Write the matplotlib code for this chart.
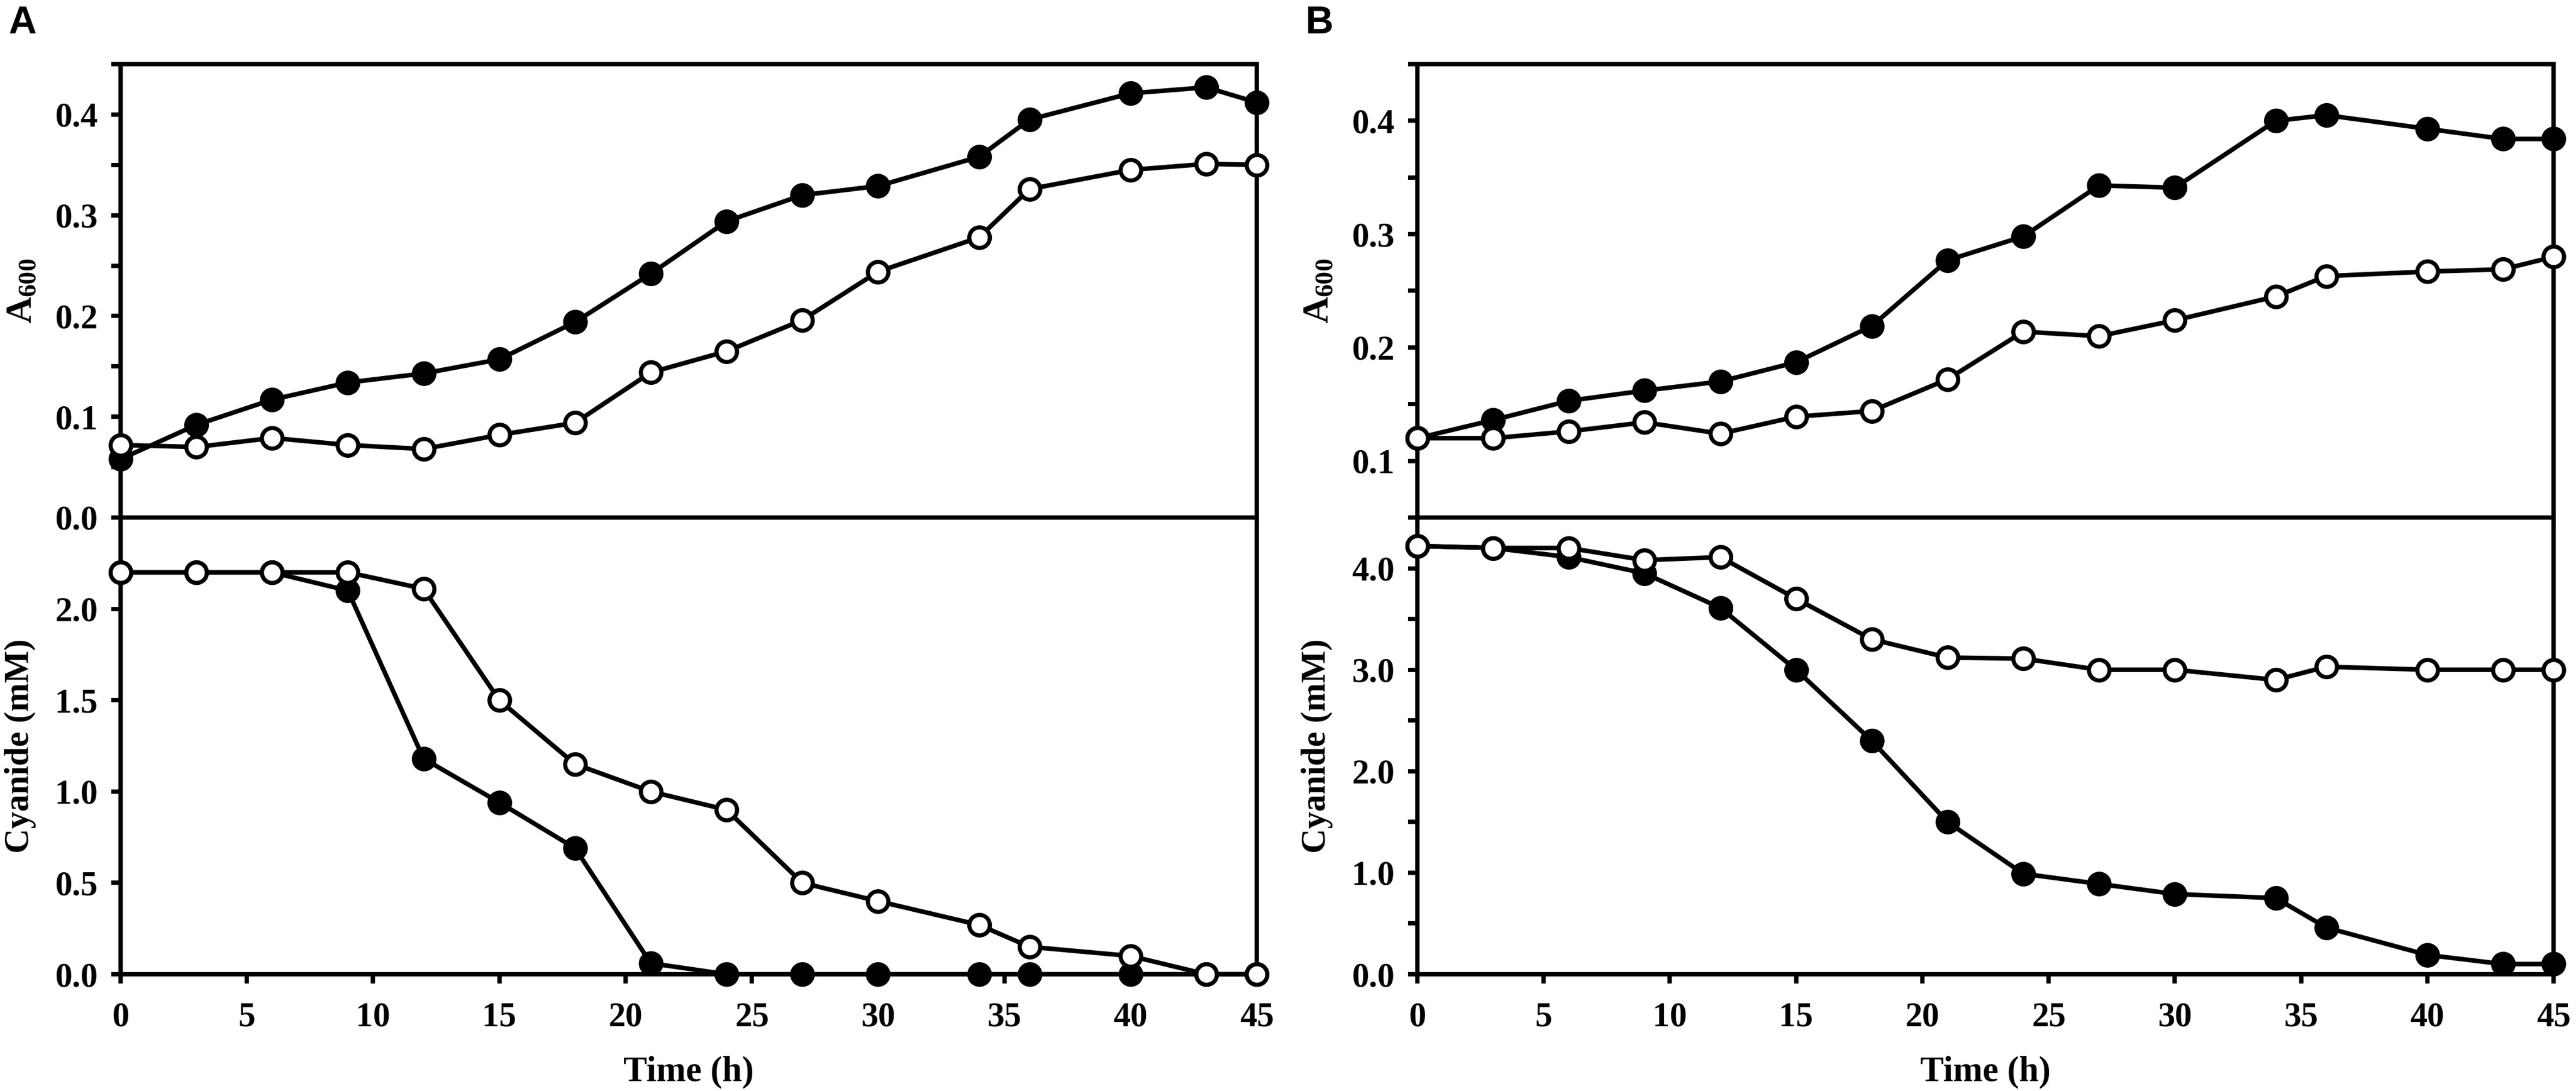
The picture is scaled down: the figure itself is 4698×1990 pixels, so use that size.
import matplotlib
matplotlib.use("Agg")
import matplotlib.pyplot as plt
from matplotlib.ticker import FixedLocator, FormatStrFormatter

# ---------------- data ----------------
time = [0, 3, 6, 9, 12, 15, 18, 21, 24, 27, 30, 34, 36, 40, 43, 45]

# Panel A
a_growth_filled = [0.058, 0.092, 0.117, 0.134, 0.143, 0.157, 0.194, 0.242, 0.294,
                   0.320, 0.329, 0.358, 0.395, 0.421, 0.427, 0.412]
a_growth_open = [0.072, 0.070, 0.079, 0.072, 0.068, 0.082, 0.094, 0.144, 0.165,
                 0.196, 0.244, 0.278, 0.326, 0.345, 0.351, 0.350]
a_cyanide_filled = [2.2, 2.2, 2.2, 2.1, 1.18, 0.94, 0.69, 0.06, 0.0,
                    0.0, 0.0, 0.0, 0.0, 0.0, 0.0, 0.0]
a_cyanide_open = [2.2, 2.2, 2.2, 2.2, 2.11, 1.50, 1.15, 1.00, 0.90,
                  0.50, 0.40, 0.27, 0.15, 0.10, 0.0, 0.0]

# Panel B
b_growth_filled = [0.120, 0.136, 0.153, 0.162, 0.170, 0.187, 0.219, 0.277, 0.298,
                   0.343, 0.341, 0.400, 0.405, 0.393, 0.384, 0.384]
b_growth_open = [0.120, 0.120, 0.126, 0.134, 0.124, 0.139, 0.144, 0.172, 0.214,
                 0.210, 0.224, 0.245, 0.263, 0.267, 0.269, 0.280]
b_cyanide_filled = [4.22, 4.20, 4.11, 3.95, 3.61, 3.00, 2.30, 1.50, 0.99,
                    0.89, 0.79, 0.75, 0.46, 0.19, 0.10, 0.10]
b_cyanide_open = [4.22, 4.20, 4.20, 4.08, 4.11, 3.70, 3.30, 3.12, 3.11,
                  3.00, 3.00, 2.90, 3.03, 3.00, 3.00, 3.00]

x_ticks = [0, 5, 10, 15, 20, 25, 30, 35, 40, 45]

# ---------------- style ----------------
plt.rcParams['font.family'] = ['Liberation Serif', 'DejaVu Serif']
plt.rcParams['font.weight'] = 'bold'
plt.rcParams['mathtext.fontset'] = 'custom'
plt.rcParams['mathtext.rm'] = 'Liberation Serif:bold'
plt.rcParams['mathtext.bf'] = 'Liberation Serif:bold'
plt.rcParams['mathtext.it'] = 'Liberation Serif:bold'

W, H = 4698, 1990
fig = plt.figure(figsize=(W / 300, H / 300), dpi=300)

LW = 2.0
SPW = 1.9
MS = 9
MEW = 1.8
FS = 15

x_left = {'A': 220, 'B': 2585}
ax_w = 2438 - 2585 + 2585  # placeholder (overwritten below)
ax_w_px = 2072
y_top, y_mid, y_bot = 117, 944, 1777


def make_ax(xpx, ytop_px, ybot_px):
    return fig.add_axes([xpx / W, 1 - ybot_px / H, ax_w_px / W, (ybot_px - ytop_px) / H])


def style_ax(ax, ylim, major, minor, show_xlabels):
    ax.set_xlim(0, 45)
    ax.set_ylim(*ylim)
    for s in ax.spines.values():
        s.set_linewidth(SPW)
        s.set_color('black')
    ax.xaxis.set_major_locator(FixedLocator(x_ticks))
    ax.yaxis.set_major_locator(FixedLocator(major))
    ax.yaxis.set_minor_locator(FixedLocator(minor))
    ax.yaxis.set_major_formatter(FormatStrFormatter('%.1f'))
    ax.tick_params(axis='both', which='both', direction='out', length=4.0,
                   width=SPW, colors='black', labelsize=FS, top=False, right=False)
    ax.tick_params(axis='y', which='both', pad=6)
    ax.tick_params(axis='x', which='major', pad=8, labelbottom=show_xlabels)
    for lab in ax.get_xticklabels() + ax.get_yticklabels():
        lab.set_fontweight('bold')


def plot_pair(ax, filled, opened):
    ax.plot(time, filled, color='black', lw=LW, marker='o', ms=MS,
            mfc='black', mec='black', mew=MEW, clip_on=False, zorder=3)
    ax.plot(time, opened, color='black', lw=LW, marker='o', ms=MS,
            mfc='white', mec='black', mew=MEW, clip_on=False, zorder=4)


# Panel A
axA1 = make_ax(x_left['A'], y_top, y_mid)
axA2 = make_ax(x_left['A'], y_mid, y_bot)
plot_pair(axA1, a_growth_filled, a_growth_open)
plot_pair(axA2, a_cyanide_filled, a_cyanide_open)
style_ax(axA1, (0, 0.45), [0.0, 0.1, 0.2, 0.3, 0.4],
         [0.05, 0.15, 0.25, 0.35, 0.45], False)
style_ax(axA2, (0, 2.5), [0.0, 0.5, 1.0, 1.5, 2.0], [], True)

# Panel B
axB1 = make_ax(x_left['B'], y_top, y_mid)
axB2 = make_ax(x_left['B'], y_mid, y_bot)
plot_pair(axB1, b_growth_filled, b_growth_open)
plot_pair(axB2, b_cyanide_filled, b_cyanide_open)
style_ax(axB1, (0.05, 0.45), [0.1, 0.2, 0.3, 0.4],
         [0.05, 0.15, 0.25, 0.35, 0.45], False)
style_ax(axB2, (0, 4.5), [0.0, 1.0, 2.0, 3.0, 4.0],
         [0.5, 1.5, 2.5, 3.5, 4.5], True)

# Axis labels
for key, axb in (('A', axA2), ('B', axB2)):
    xl = x_left[key]
    fig.text((xl - 180) / W, 1 - ((y_top + y_mid) / 2) / H, r'$\mathbf{A_{600}}$',
             rotation=90, ha='center', va='center', fontsize=FS + 1)
    fig.text((xl - 183) / W, 1 - ((y_mid + y_bot) / 2) / H, 'Cyanide (mM)',
             rotation=90, ha='center', va='center', fontsize=FS, fontweight='bold')
    fig.text((xl + ax_w_px / 2) / W, 1 - 1956 / H, 'Time (h)',
             ha='center', va='center', fontsize=FS + 0.5, fontweight='bold')

# Panel letters
fig.text(15 / W, 1 - 10 / H, 'A', ha='left', va='top', fontsize=17,
         fontweight='bold', family=['Liberation Sans', 'DejaVu Sans'])
fig.text(2380 / W, 1 - 10 / H, 'B', ha='left', va='top', fontsize=17,
         fontweight='bold', family=['Liberation Sans', 'DejaVu Sans'])

fig.savefig('out.png', dpi=300, facecolor='white')
